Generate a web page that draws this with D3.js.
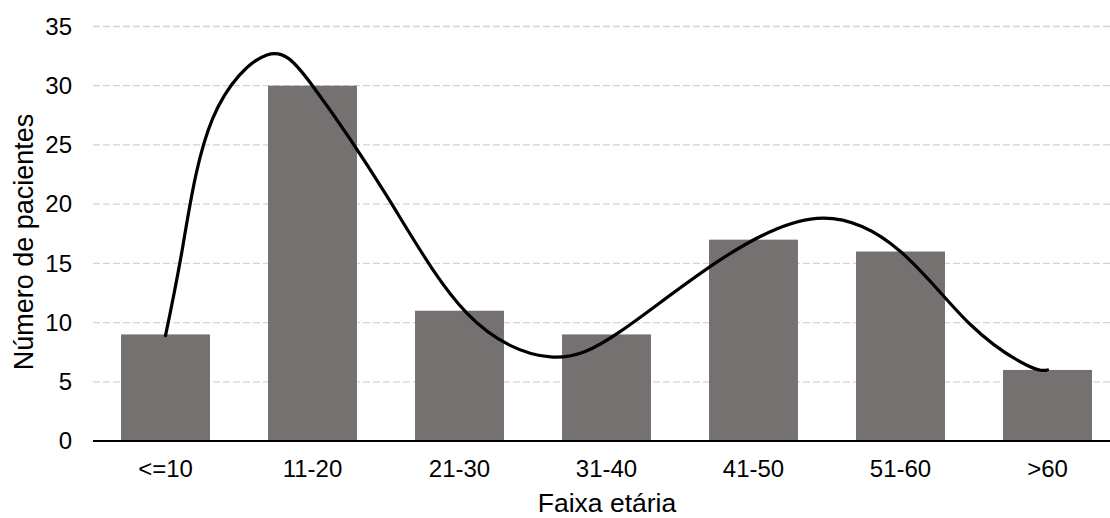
<!DOCTYPE html>
<html>
<head>
<meta charset="utf-8">
<script src="https://cdn.jsdelivr.net/npm/d3@7"></script>
<style>
  html, body { margin: 0; padding: 0; background: #ffffff; }
  svg { display: block; font-family: "Liberation Sans", Arial, sans-serif; }
</style>
</head>
<body>
<svg id="chart" width="1110" height="518"></svg>
<script>
// ---- data ----
const categories = ["<=10", "11-20", "21-30", "31-40", "41-50", "51-60", ">60"];
const patients = [9, 30, 11, 9, 17, 16, 6];
const yTicks = [0, 5, 10, 15, 20, 25, 30, 35];
// smoothed trend curve: [category position, value]
const curveIndex = [0, 0.12, 0.32, 0.69, 1.0, 1.5, 2.05, 2.62, 3.1, 3.75, 4.43, 5.0, 5.47, 5.86, 6.0];
const curveValue = [8.9, 16.6, 27.2, 32.6, 30.0, 20.8, 10.8, 7.1, 9.3, 15.1, 18.8, 16.0, 9.9, 6.4, 6.0];
const xTitle = "Faixa etária";
const yTitle = "Número de pacientes";

// ---- chart ----
const svg = d3.select("#chart");
const plotLeft = 92, plotRight = 1121, plotTop = 26.5, plotBottom = 441;

const x = d3.scaleBand()
  .domain(categories)
  .range([plotLeft, plotRight])
  .paddingInner(0.395)
  .paddingOuter(0.1975);

const y = d3.scaleLinear().domain([0, 35]).range([plotBottom, plotTop]);

const xPos = d3.scaleLinear()
  .domain([0, categories.length - 1])
  .range([x(categories[0]) + x.bandwidth() / 2, x(categories[categories.length - 1]) + x.bandwidth() / 2]);

// gridlines
svg.append("g")
  .selectAll("line")
  .data(yTicks.filter(d => d > 0))
  .join("line")
  .attr("x1", plotLeft + 1)
  .attr("x2", 1110)
  .attr("y1", d => y(d))
  .attr("y2", d => y(d))
  .attr("stroke", "#d4d4d4")
  .attr("stroke-width", 1.3)
  .attr("stroke-dasharray", "7,3");

// bars
svg.append("g")
  .selectAll("rect")
  .data(patients)
  .join("rect")
  .attr("x", (d, i) => x(categories[i]))
  .attr("y", d => y(d))
  .attr("width", x.bandwidth())
  .attr("height", d => y(0) - y(d))
  .attr("fill", "#757171");

// x axis
const xAxis = svg.append("g")
  .attr("transform", `translate(0,${plotBottom})`)
  .call(d3.axisBottom(x).tickSize(0).tickPadding(19));
xAxis.select(".domain").attr("stroke", "#000").attr("stroke-width", 2)
  .attr("d", `M${plotLeft + 1},0H1110`);
xAxis.selectAll("text")
  .attr("font-size", 24)
  .attr("fill", "#000")
  .attr("font-family", "'Liberation Sans', Arial, sans-serif");

// y axis (labels only)
const yAxis = svg.append("g")
  .attr("transform", `translate(${plotLeft},0)`)
  .call(d3.axisLeft(y).tickValues(yTicks).tickSize(0).tickPadding(20));
yAxis.select(".domain").remove();
yAxis.selectAll("text")
  .attr("font-size", 24)
  .attr("fill", "#000")
  .attr("font-family", "'Liberation Sans', Arial, sans-serif");

// trend curve
const pts = curveIndex.map((c, i) => [xPos(c), y(curveValue[i])]);
svg.append("path")
  .attr("d", d3.line().curve(d3.curveNatural)(pts))
  .attr("fill", "none")
  .attr("stroke", "#000")
  .attr("stroke-width", 3.2)
  .attr("stroke-linecap", "round");

// titles
svg.append("text")
  .attr("x", 607)
  .attr("y", 512)
  .attr("text-anchor", "middle")
  .attr("font-size", 26.5)
  .attr("fill", "#000")
  .text(xTitle);

svg.append("text")
  .attr("transform", `translate(33,242) rotate(-90)`)
  .attr("text-anchor", "middle")
  .attr("font-size", 27)
  .attr("fill", "#000")
  .text(yTitle);
</script>
</body>
</html>
